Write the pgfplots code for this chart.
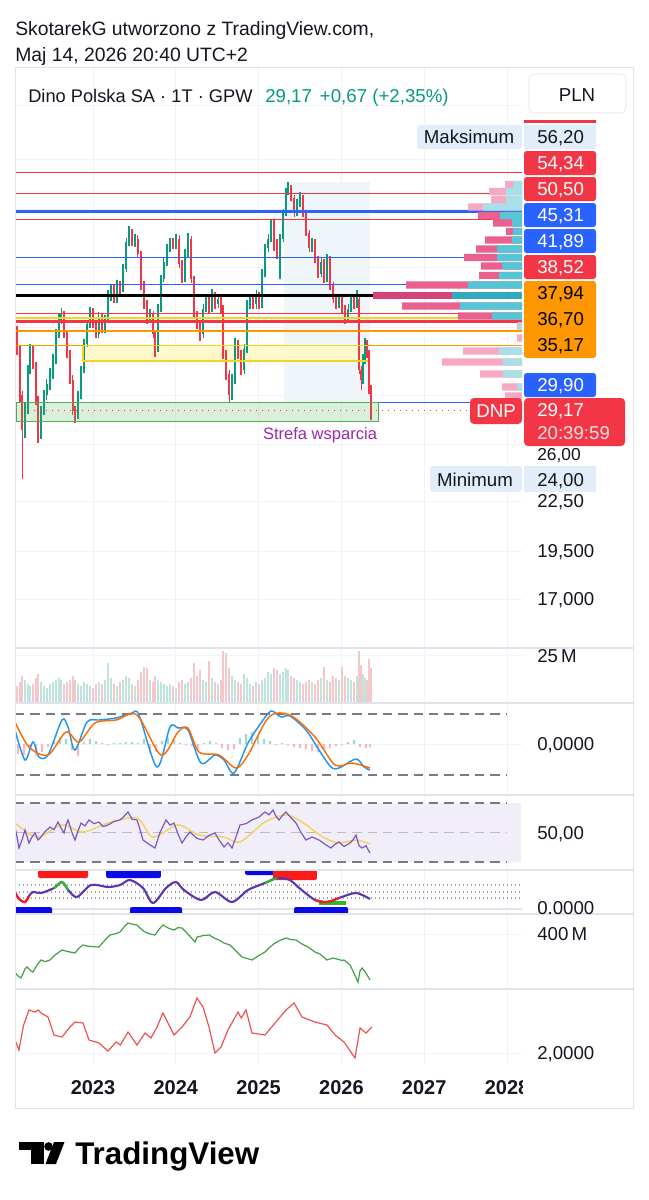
\documentclass[border=0pt]{standalone}
\usepackage{fontspec}
\setmainfont{Liberation Sans}
\usepackage{pgfplots}
\usepackage{pgfplotstable}
\pgfplotsset{compat=1.18}
\definecolor{tvred}{HTML}{F23645}
\definecolor{tvgreen}{HTML}{089981}
\definecolor{tvblue}{HTML}{2962FF}
\definecolor{tvorange}{HTML}{FF9800}
\definecolor{gridc}{HTML}{F0F3FA}
\definecolor{sepc}{HTML}{E0E3EB}
\definecolor{txt}{HTML}{131722}
\definecolor{lblue}{HTML}{E3ECF9}
\definecolor{shadeb}{HTML}{EEF6FA}
\definecolor{ybandf}{HTML}{FFF8CD}
\definecolor{yline}{HTML}{F7D21E}
\definecolor{zoneg}{HTML}{4CAF50}
\definecolor{volg}{HTML}{BFE4DE}
\definecolor{volr}{HTML}{F5C6CA}
\definecolor{vpp}{HTML}{E9628F}
\definecolor{vppl}{HTML}{F5A9C4}
\definecolor{vpc}{HTML}{56C6D6}
\definecolor{vpcl}{HTML}{A9E0E8}
\definecolor{vppd}{HTML}{D4447B}
\definecolor{vpcd}{HTML}{33AABB}
\definecolor{macdb}{HTML}{2196F3}
\definecolor{macdo}{HTML}{FF6D00}
\definecolor{histg}{HTML}{A5D6C9}
\definecolor{histr}{HTML}{F4B9BE}
\definecolor{dashc}{HTML}{787B86}
\definecolor{rsip}{HTML}{7E57C2}
\definecolor{rsiy}{HTML}{F2D35C}
\definecolor{rsibg}{HTML}{F2EEF9}
\definecolor{indp}{HTML}{5E35B1}
\definecolor{indr}{HTML}{FF1A1A}
\definecolor{indg}{HTML}{2EB82E}
\definecolor{indb}{HTML}{0A0AE6}
\definecolor{obvg}{HTML}{43A047}
\definecolor{lr}{HTML}{EF5350}
\definecolor{strefa}{HTML}{9C27B0}

\pgfplotstableread{
t o h l c v
2022.082 36.5 37.2 34.2 34.8 9
2022.118 34.8 35.2 29.8 30.5 11
2022.143 30.5 30.9 24.0 27.6 14
2022.179 27.6 29.8 27.0 29.2 12
2022.215 29.2 33.3 28.9 32.8 10
2022.239 32.8 35.3 32.4 34.8 9
2022.275 34.8 35.2 32.9 33.3 10
2022.312 33.3 33.6 29.7 30.1 13
2022.336 30.1 30.4 26.6 27.3 15
2022.372 27.3 29.6 26.9 29.2 11
2022.408 29.2 31.0 28.8 30.5 9
2022.444 30.5 32.0 30.1 31.5 8
2022.481 31.5 33.0 31.0 32.4 10
2022.517 32.4 34.3 32.0 33.8 11
2022.553 33.8 36.9 33.4 36.4 12
2022.589 36.4 38.5 36.0 37.9 13
2022.614 37.9 39.2 37.4 38.5 12
2022.650 38.5 38.9 36.0 36.4 10
2022.686 36.4 36.8 33.9 34.3 11
2022.722 34.3 34.7 31.5 31.9 12
2022.758 31.9 32.3 28.8 29.2 14
2022.783 29.2 29.6 28.2 28.8 12
2022.819 28.8 30.9 28.5 30.5 10
2022.855 30.5 33.2 30.2 32.8 9
2022.891 32.8 35.8 32.5 35.3 11
2022.928 35.3 37.9 35.0 37.4 10
2022.964 37.4 39.3 37.0 38.8 9
2023.000 38.8 39.2 37.0 37.4 8
2023.036 37.4 37.8 35.9 36.4 10
2023.072 36.4 38.7 36.0 38.2 11
2023.109 38.2 38.6 36.5 36.9 10
2023.145 36.9 38.4 36.5 37.9 12
2023.181 37.9 41.2 37.5 40.6 21
2023.217 40.6 42.0 40.0 41.4 13
2023.254 41.4 41.9 39.7 40.2 10
2023.290 40.2 42.4 39.8 41.8 9
2023.326 41.8 42.3 40.8 41.4 11
2023.362 41.4 44.4 41.0 43.8 12
2023.399 43.8 47.9 43.4 47.3 14
2023.435 47.3 49.5 46.8 48.6 13
2023.471 48.6 49.2 46.8 47.3 10
2023.507 47.3 48.4 46.7 47.8 9
2023.543 47.8 48.3 45.3 45.8 12
2023.580 45.8 46.2 41.3 41.8 16
2023.616 41.8 42.3 39.1 39.6 19
2023.652 39.6 40.1 37.4 37.9 18
2023.688 37.9 39.1 37.5 38.5 12
2023.725 38.5 38.9 35.9 36.4 11
2023.749 36.4 36.8 34.0 34.8 14
2023.785 34.8 39.6 34.5 39.1 12
2023.821 39.1 43.1 38.7 42.6 11
2023.857 42.6 45.3 42.2 44.7 10
2023.894 44.7 47.1 44.2 46.5 9
2023.930 46.5 47.9 46.0 47.3 10
2023.966 47.3 47.9 46.4 46.9 9
2024.002 46.9 48.5 46.4 47.8 8
2024.039 47.8 48.3 44.0 44.4 11
2024.075 44.4 44.9 42.1 42.6 12
2024.111 42.6 46.4 42.2 45.8 10
2024.147 45.8 48.6 45.3 47.8 11
2024.184 47.8 48.2 42.1 42.6 13
2024.220 42.6 43.0 38.0 38.5 21
2024.256 38.5 38.9 36.9 37.4 14
2024.292 37.4 37.8 35.6 36.4 17
2024.329 36.4 39.6 36.0 39.1 12
2024.365 39.1 40.8 38.7 40.2 11
2024.401 40.2 40.6 38.6 39.1 22
2024.437 39.1 41.4 38.7 40.6 13
2024.473 40.6 41.0 39.1 39.6 11
2024.510 39.6 40.7 39.2 40.2 10
2024.546 40.2 40.6 38.6 39.1 12
2024.570 39.1 39.5 33.8 34.3 27
2024.606 34.3 34.7 31.9 32.4 26
2024.643 32.4 32.8 29.9 30.5 18
2024.679 30.5 32.4 30.1 31.9 14
2024.715 31.9 35.9 31.5 35.3 12
2024.751 35.3 35.7 33.8 34.3 11
2024.787 34.3 34.7 32.3 32.8 10
2024.824 32.8 35.3 32.4 34.8 15
2024.860 34.8 40.1 34.4 39.6 13
2024.896 39.6 40.8 39.1 40.2 10
2024.932 40.2 40.7 39.1 39.6 9
2024.969 39.6 41.2 39.1 40.6 11
2025.005 40.6 41.0 39.1 39.6 10
2025.041 39.6 43.8 39.2 43.2 12
2025.077 43.2 47.1 42.8 46.5 13
2025.114 46.5 48.4 46.0 47.8 16
2025.150 47.8 50.6 47.3 49.9 15
2025.186 49.9 50.4 46.2 47.3 18
2025.222 47.3 47.8 45.1 45.8 17
2025.258 45.8 48.4 42.6 47.8 15
2025.295 47.8 52.0 47.3 51.4 16
2025.331 51.4 55.3 51.0 54.6 18
2025.355 54.6 56.2 54.2 55.3 17
2025.391 55.3 55.8 53.2 53.7 14
2025.428 53.7 54.2 50.9 51.4 13
2025.464 51.4 53.5 51.0 52.9 12
2025.500 52.9 54.6 52.4 53.7 11
2025.536 53.7 54.1 50.9 51.4 10
2025.572 51.4 51.8 48.1 48.6 11
2025.609 48.6 49.0 46.0 46.5 12
2025.645 46.5 47.9 46.0 47.3 11
2025.681 47.3 47.7 44.6 45.1 10
2025.717 45.1 45.5 42.7 43.2 12
2025.754 43.2 45.3 42.8 44.7 13
2025.790 44.7 45.1 42.1 42.6 19
2025.826 42.6 45.8 42.2 45.1 12
2025.862 45.1 45.5 41.3 41.8 11
2025.899 41.8 42.2 39.7 40.2 14
2025.935 40.2 40.7 39.1 39.6 13
2025.971 39.6 40.8 39.2 40.2 12
2026.007 40.2 40.6 38.6 39.1 19
2026.043 39.1 39.5 37.4 37.9 14
2026.080 37.9 39.6 37.5 39.1 13
2026.116 39.1 40.8 38.7 40.2 12
2026.152 40.2 40.6 39.1 39.6 11
2026.188 39.6 41.3 39.2 40.2 14
2026.213 40.2 40.5 32.4 32.8 27
2026.237 32.8 33.2 31.0 31.9 20
2026.261 31.9 34.3 31.5 33.8 15
2026.285 33.8 35.9 33.4 35.3 13
2026.309 35.3 35.7 33.9 34.3 12
2026.333 34.3 34.7 30.6 31.0 23
2026.357 31.0 31.4 28.4 29.17 18
}\candles

\pgfplotstableread{
t v
2022.058 8
2022.106 4.5
2022.179 3
2022.227 6
2022.275 8
2022.372 7.5
2022.529 10
2022.626 13
2022.700 9
2022.807 5.5
2022.976 11.5
2023.181 10.5
2023.326 11.5
2023.447 14
2023.604 10
2023.725 2.5
2023.882 10
2024.002 13
2024.099 9
2024.304 4
2024.473 8
2024.679 3
2024.872 9
2025.077 12.5
2025.222 15
2025.379 14
2025.476 10.5
2025.681 4
2025.826 3
2025.971 5
2026.176 7.5
2026.345 4.5
}\indic

\pgfplotsset{pane/.style={scale only axis, width=380.25pt, anchor=north west,
  xmin=2022.058, xmax=2028.181, axis line style={draw=none}, major tick length=0pt,
  xtick={2023,2024,2025,2026,2027,2028}, xticklabels={}, yticklabels={},
  xmajorgrids, major grid style={gridc, line width=0.75pt}}}

\newcommand{\hl}[4]{\addplot[#1, forget plot] coordinates {(#2,#4) (#3,#4)};}
\newcommand{\getcandle}[1]{%
  \pgfplotstablegetelem{#1}{t}\of\candles\let\ct\pgfplotsretval
  \pgfplotstablegetelem{#1}{o}\of\candles\let\co\pgfplotsretval
  \pgfplotstablegetelem{#1}{h}\of\candles\let\ch\pgfplotsretval
  \pgfplotstablegetelem{#1}{l}\of\candles\let\cl\pgfplotsretval
  \pgfplotstablegetelem{#1}{c}\of\candles\let\cc\pgfplotsretval
  \pgfplotstablegetelem{#1}{v}\of\candles\let\cv\pgfplotsretval
  \pgfmathtruncatemacro{\cup}{\cc>=\co ? 1 : 0}%
  \ifnum\cup=1 \def\ccol{tvgreen}\def\vcol{volg}\else\def\ccol{tvred}\def\vcol{volr}\fi}

\begin{document}
\begin{tikzpicture}[x=0.75pt,y=0.75pt]
\useasboundingbox (0,0) rectangle (649,-1200);
\fill[white] (0,0) rectangle (649,-1200);

% ---------------- main price pane
\begin{axis}[pane, at={(11.25pt,-51pt)}, height=435pt, ymode=log, ymin=14.78, ymax=77.98,
  ytick={17,19.5,22.5,26.5,30.5,37,44,52,60,70}, ymajorgrids]
  \fill[shadeb] (axis cs:2025.307,56.24) rectangle (axis cs:2026.345,29.92);
  \fill[ybandf] (axis cs:2022.879,35.17) rectangle (axis cs:2026.321,33.66);
  \pgfplotsinvokeforeach{0,...,123}{%
    \getcandle{#1}%
    \edef\cmd{\noexpand\addplot[forget plot, color=\ccol, line width=0.8pt] coordinates {(\ct,\cl) (\ct,\ch)};
      \noexpand\addplot[forget plot, color=\ccol, line width=2.1pt] coordinates {(\ct,\co) (\ct,\cc)};}%
    \cmd
  }
  % support zone
  \fill[zoneg, fill opacity=0.2] (axis cs:2022.076,29.86) rectangle (axis cs:2026.448,28.28);
  \draw[zoneg, line width=1pt] (axis cs:2022.076,29.86) rectangle (axis cs:2026.448,28.28);
  % horizontal levels
  \hl{tvred, line width=0.8pt}{2022.058}{2028.181}{57.76}
  \hl{tvred, line width=0.8pt}{2022.058}{2028.181}{54.34}
  \hl{tvblue, line width=2.3pt}{2022.058}{2028.181}{51.65}
  \hl{tvred, line width=0.8pt}{2022.058}{2028.181}{50.50}
  \hl{tvblue, line width=0.9pt}{2022.058}{2028.181}{45.31}
  \hl{tvblue, line width=0.9pt}{2022.058}{2028.181}{41.89}
  \hl{black, line width=2.3pt}{2022.058}{2026.382}{40.56}
  \hl{tvred, line width=0.8pt}{2022.058}{2028.181}{38.52}
  \hl{yline, line width=1.5pt}{2022.058}{2027.408}{38.02}
  \hl{tvred, line width=2.3pt}{2022.058}{2028.181}{37.67}
  \hl{tvorange, line width=1.1pt}{2022.058}{2028.181}{36.70}
  \hl{tvorange, line width=1.1pt}{2022.058}{2028.181}{35.17}
  \hl{yline, line width=1.1pt}{2022.879}{2026.321}{35.17}
  \hl{yline, line width=1.1pt}{2022.879}{2026.321}{33.66}
  \addplot[yline, line width=1.1pt, forget plot] coordinates {(2022.879,35.17) (2022.879,33.66)};
  \hl{tvblue, line width=0.8pt}{2026.448}{2027.553}{29.90}
  \hl{tvred, line width=0.9pt, dash pattern=on 1pt off 3.5pt}{2022.070}{2027.553}{29.17}
\end{axis}

% ---------------- volume profile overlay
\begin{axis}[scale only axis, width=380.25pt, height=435pt, at={(11.25pt,-51pt)}, anchor=north west,
  ymode=log, ymin=14.78, ymax=77.98, xmin=0, xmax=507, x dir=reverse, hide axis,
  xbar, bar width=5.4pt]
  \addplot[draw=none, fill=vppl, bar shift=0pt] coordinates {(17,55.84) (33,54.73) (31,53.49) (54,52.35) (5,37.21) (5,35.95) (59,34.64) (80,33.56) (42,32.43) (20,31.24) (17,30.44)};
  \addplot[draw=none, fill=vpp, bar shift=0pt] coordinates {(44,51.09) (29,50.00) (16,48.80) (37,47.62) (46,46.41) (58,45.29) (41,44.20) (43,43.01) (116,41.86) (120,39.41) (64,38.29)};
  \addplot[draw=none, fill=vppd, bar shift=0pt] coordinates {(149,40.61)};
  \addplot[draw=none, fill=vpcl, bar shift=0pt] coordinates {(9,55.84) (16,54.73) (16,53.49) (39,52.35) (4,37.21) (23,34.64) (19,33.56) (19,32.43) (5,31.24)};
  \addplot[draw=none, fill=vpc, bar shift=0pt] coordinates {(22,51.09) (10,50.00) (9,48.80) (10,47.62) (25,46.41) (25,45.29) (20,44.20) (23,43.01) (54,41.86) (62,39.41) (30,38.29)};
  \addplot[draw=none, fill=vpcd, bar shift=0pt] coordinates {(70,40.61)};
\end{axis}

% ---------------- volume
\begin{axis}[pane, at={(11.25pt,-486pt)}, height=41.25pt, ymin=0, ymax=28.65, ytick={25}, ymajorgrids]
  \pgfplotsinvokeforeach{0,...,123}{%
    \getcandle{#1}%
    \edef\cmd{\noexpand\addplot[forget plot, ybar, bar width=1.6pt, bar shift=0pt, draw=none, fill=\vcol] coordinates {(\ct,\cv)};}%
    \cmd
  }
\end{axis}

% ---------------- MACD
\begin{axis}[pane, at={(11.25pt,-527.25pt)}, height=69pt, ymin=-5.1, ymax=4.1, ytick={0}, ymajorgrids]
  \addplot[ybar, bar width=1.6pt, bar shift=0pt, draw=none, fill=histg] coordinates {
   (2022.529,0.4) (2022.601,0.7) (2022.674,0.5) (2022.891,0.2) (2022.964,0.5) (2023.036,0.3)
   (2023.109,0.1) (2023.254,0.1) (2023.326,0.1) (2023.399,0.2) (2023.471,0.2) (2023.543,0.1)
   (2023.616,0.5) (2023.833,0.3) (2023.906,0.6) (2023.978,0.4) (2024.051,0.1) (2024.341,0.1)
   (2024.413,0.3) (2024.486,0.1) (2024.775,0.6) (2024.848,1.0) (2024.920,1.2) (2024.993,0.8)
   (2025.065,0.5) (2025.138,0.3) (2025.283,0.1) (2026.080,0.2) (2026.152,0.4)};
  \addplot[ybar, bar width=1.6pt, bar shift=0pt, draw=none, fill=histr] coordinates {
   (2022.094,-1.0) (2022.167,-1.1) (2022.239,-0.5) (2022.312,-1.2) (2022.384,-0.8) (2022.457,-0.3)
   (2022.746,-0.6) (2022.819,-1.2) (2023.181,-0.1) (2023.688,-0.9) (2023.761,-0.8)
   (2024.123,-0.1) (2024.196,-0.2) (2024.268,-0.5) (2024.558,-0.4) (2024.630,-0.6) (2024.703,-0.5)
   (2025.210,-0.1) (2025.355,-0.1) (2025.428,-0.3) (2025.500,-0.4) (2025.572,-0.5) (2025.645,-0.7)
   (2025.717,-0.8) (2025.790,-0.6) (2025.862,-0.4) (2025.935,-0.2) (2026.007,-0.1)
   (2026.225,-0.3) (2026.297,-0.4) (2026.345,-0.3)};
  \hl{dashc, line width=1.3pt, dash pattern=on 7pt off 4.5pt}{2022.058}{2028.0}{3.0}
  \hl{dashc, line width=1.3pt, dash pattern=on 7pt off 4.5pt}{2022.058}{2028.0}{-3.1}
  \addplot[macdb, line width=1.1pt, smooth, tension=0.5] coordinates {
   (2022.058,1.4) (2022.179,-1.6) (2022.275,0.2) (2022.348,-1.3) (2022.457,-1.1) (2022.626,2.4)
   (2022.698,1.7) (2022.783,-0.6) (2022.928,2.2) (2023.072,2.4) (2023.278,2.6) (2023.471,3.1)
   (2023.556,2.9) (2023.773,-2.3) (2023.930,1.7) (2024.027,1.6) (2024.147,1.4) (2024.304,-1.9)
   (2024.473,-1.1) (2024.582,-1.6) (2024.703,-2.9) (2024.872,0.1) (2025.029,2.1) (2025.150,3.3)
   (2025.271,2.7) (2025.379,2.8) (2025.572,1.4) (2025.729,-0.6) (2025.874,-2.3) (2025.971,-2.4)
   (2026.176,-1.5) (2026.273,-2.3) (2026.345,-2.6)};
  \addplot[macdo, line width=1.1pt, smooth, tension=0.5] coordinates {
   (2022.058,2.2) (2022.227,-0.3) (2022.457,-1.1) (2022.674,1.2) (2022.831,0.2) (2023.024,2.1)
   (2023.278,2.4) (2023.531,2.9) (2023.821,-1.1) (2024.027,1.2) (2024.147,1.6) (2024.280,-0.8)
   (2024.522,-1.1) (2024.727,-2.4) (2024.872,-1.1) (2025.126,2.7) (2025.379,2.9) (2025.681,0.7)
   (2025.923,-2.1) (2026.128,-1.9) (2026.345,-2.4)};
\end{axis}

% ---------------- RSI
\begin{axis}[pane, at={(11.25pt,-596.25pt)}, height=56.25pt, ymin=24.58, ymax=75.42]
  \fill[rsibg] (axis cs:2022.058,70) rectangle (axis cs:2028.169,30);
  \hl{dashc, line width=1.3pt, dash pattern=on 7pt off 4.5pt}{2022.058}{2028.0}{70}
  \hl{dashc!50, line width=1.1pt, dash pattern=on 7pt off 4.5pt}{2022.058}{2028.0}{50}
  \hl{dashc, line width=1.3pt, dash pattern=on 7pt off 4.5pt}{2022.058}{2028.0}{30}
  \addplot[rsiy, line width=1.1pt, smooth] coordinates {
   (2022.058,56.4) (2022.324,46.9) (2022.626,55.1) (2022.879,50.3) (2023.181,56.4) (2023.531,59.8)
   (2023.725,46.9) (2024.027,55.1) (2024.280,48.3) (2024.582,46.9) (2024.775,43.6) (2025.077,57.1)
   (2025.331,61.9) (2025.524,57.1) (2025.778,46.9) (2025.971,42.9) (2026.176,44.9) (2026.345,42.2)};
  \addplot[rsip, line width=0.9pt] coordinates {
   (2022.058,53.7) (2022.082,47.0) (2022.106,39.5) (2022.143,45.0) (2022.179,51.7) (2022.203,47.5)
   (2022.227,42.9) (2022.264,47.0) (2022.300,49.7) (2022.336,45.0) (2022.372,46.9) (2022.420,50.5)
   (2022.481,53.7) (2022.529,52.0) (2022.577,57.1) (2022.614,53.0) (2022.650,49.7) (2022.674,55.0)
   (2022.698,58.5) (2022.746,50.0) (2022.783,44.9) (2022.819,51.0) (2022.855,56.4) (2022.903,54.5)
   (2022.952,58.5) (2023.012,56.0) (2023.072,57.1) (2023.121,54.0) (2023.181,55.1) (2023.254,57.5)
   (2023.326,58.5) (2023.375,61.0) (2023.423,63.9) (2023.471,59.0) (2023.531,58.5) (2023.568,52.0)
   (2023.604,44.9) (2023.676,42.0) (2023.749,39.5) (2023.809,50.0) (2023.882,58.5) (2023.930,55.0)
   (2023.978,56.4) (2024.027,49.0) (2024.075,42.9) (2024.123,47.0) (2024.171,50.3) (2024.256,46.0)
   (2024.329,44.9) (2024.401,48.0) (2024.473,49.7) (2024.522,45.0) (2024.582,40.2) (2024.630,43.0)
   (2024.679,39.5) (2024.727,47.0) (2024.775,55.1) (2024.848,56.0) (2024.920,58.5) (2025.005,60.5)
   (2025.077,63.9) (2025.126,62.0) (2025.174,65.3) (2025.210,61.0) (2025.246,58.5) (2025.295,62.0)
   (2025.331,63.9) (2025.391,60.0) (2025.452,56.4) (2025.512,50.0) (2025.572,44.9) (2025.645,47.0)
   (2025.729,44.9) (2025.802,42.0) (2025.874,39.5) (2025.923,42.0) (2025.971,43.6) (2026.031,40.5)
   (2026.104,42.9) (2026.140,45.0) (2026.176,48.3) (2026.213,41.0) (2026.249,39.5) (2026.297,41.0)
   (2026.345,36.1)};
\end{axis}

% ---------------- indicator pane
\begin{axis}[pane, at={(11.25pt,-652.5pt)}, height=33pt, ymin=-3, ymax=19]
  \hl{dashc!70, line width=0.8pt, dash pattern=on 0.8pt off 2.2pt}{2022.058}{2028.181}{11.5}
  \hl{dashc!70, line width=0.8pt, dash pattern=on 0.8pt off 2.2pt}{2022.058}{2028.181}{8}
  \hl{dashc!70, line width=0.8pt, dash pattern=on 0.8pt off 2.2pt}{2022.058}{2028.181}{5}
  \hl{sepc, line width=0.8pt}{2022.058}{2028.181}{-0.5}
  \fill[indr, rounded corners=1.5pt] (axis cs:2022.336,20) rectangle (axis cs:2022.940,15);
  \fill[indb, rounded corners=1.5pt] (axis cs:2023.157,20) rectangle (axis cs:2023.821,15);
  \fill[indb, rounded corners=1.5pt] (axis cs:2024.836,20) rectangle (axis cs:2025.476,16.5);
  \fill[indr, rounded corners=1.5pt] (axis cs:2025.174,20) rectangle (axis cs:2025.705,14);
  \fill[indb, rounded corners=1.5pt] (axis cs:2022.058,0.5) rectangle (axis cs:2022.505,-3.5);
  \fill[indb, rounded corners=1.5pt] (axis cs:2023.447,0.5) rectangle (axis cs:2024.075,-3.5);
  \fill[indb, rounded corners=1.5pt] (axis cs:2025.428,0.5) rectangle (axis cs:2026.080,-3.5);
  \fill[indg] (axis cs:2025.729,3.5) rectangle (axis cs:2026.055,1.5);
  \addplot[indp, line width=1.6pt, smooth] table[x=t, y=v] {\indic};
  \addplot[indr, line width=1.6pt, smooth, restrict x to domain=2022.05:2022.25] table[x=t, y=v] {\indic};
  \addplot[indr, line width=1.6pt, smooth, restrict x to domain=2023.65:2023.80] table[x=t, y=v] {\indic};
  \addplot[indr, line width=1.6pt, smooth, restrict x to domain=2024.60:2024.75] table[x=t, y=v] {\indic};
  \addplot[indr, line width=1.6pt, smooth, restrict x to domain=2025.65:2026.0] table[x=t, y=v] {\indic};
  \addplot[indr, line width=1.6pt, smooth, restrict x to domain=2026.30:2026.36] table[x=t, y=v] {\indic};
  \addplot[indg, line width=1.6pt, smooth, restrict x to domain=2022.52:2022.70] table[x=t, y=v] {\indic};
  \addplot[indg, line width=1.6pt, smooth, restrict x to domain=2023.40:2023.50] table[x=t, y=v] {\indic};
  \addplot[indg, line width=1.6pt, smooth, restrict x to domain=2023.95:2024.05] table[x=t, y=v] {\indic};
  \addplot[indg, line width=1.6pt, smooth, restrict x to domain=2025.00:2025.25] table[x=t, y=v] {\indic};
\end{axis}

% ---------------- green line pane
\begin{axis}[pane, at={(11.25pt,-685.5pt)}, height=56.25pt, ymin=125, ymax=500, ytick={400}, ymajorgrids]
  \addplot[obvg, line width=0.9pt] coordinates {
   (2022.058,210) (2022.082,195) (2022.130,180) (2022.179,225) (2022.203,235) (2022.251,215)
   (2022.275,210) (2022.324,245) (2022.372,270) (2022.420,262) (2022.481,270) (2022.541,295)
   (2022.626,320) (2022.698,312) (2022.783,305) (2022.831,330) (2022.879,345) (2022.952,338)
   (2023.072,335) (2023.145,370) (2023.205,395) (2023.278,402) (2023.326,410) (2023.375,435)
   (2023.423,455) (2023.484,448) (2023.531,445) (2023.580,425) (2023.628,410) (2023.690,400)
   (2023.749,395) (2023.800,425) (2023.845,445) (2023.918,428) (2023.978,420) (2024.027,432)
   (2024.075,430) (2024.135,405) (2024.232,360) (2024.256,385) (2024.329,392) (2024.401,395)
   (2024.473,378) (2024.522,370) (2024.582,355) (2024.655,345) (2024.739,310) (2024.800,285)
   (2024.860,278) (2024.920,270) (2024.993,290) (2025.077,310) (2025.138,335) (2025.198,355)
   (2025.258,368) (2025.331,380) (2025.391,372) (2025.452,370) (2025.524,350) (2025.596,335)
   (2025.681,310) (2025.741,300) (2025.826,270) (2025.899,280) (2026.007,268) (2026.031,270)
   (2026.104,245) (2026.140,215) (2026.200,160) (2026.225,215) (2026.249,230) (2026.297,205)
   (2026.345,170)};
\end{axis}

% ---------------- red line pane
\begin{axis}[pane, at={(11.25pt,-741.75pt)}, height=57pt, ymin=1.76, ymax=3.28, ytick={2}, ymajorgrids,
  xticklabels={2023,2024,2025,2026,2027,2028},
  xticklabel style={font=\fontsize{15}{18}\selectfont\bfseries, text=txt, anchor=center, yshift=-17.25pt}]
  \addplot[lr, line width=0.9pt] coordinates {
   (2022.058,2.26) (2022.106,2.06) (2022.160,2.55) (2022.227,2.86) (2022.300,2.82) (2022.340,2.86)
   (2022.372,2.80) (2022.457,2.72) (2022.529,2.36) (2022.626,2.32) (2022.722,2.52) (2022.783,2.62)
   (2022.879,2.60) (2022.952,2.26) (2023.072,2.20) (2023.181,2.04) (2023.278,2.22) (2023.330,2.16)
   (2023.423,2.42) (2023.531,2.16) (2023.628,2.40) (2023.700,2.30) (2023.773,2.52) (2023.845,2.80)
   (2023.978,2.36) (2024.075,2.52) (2024.171,2.72) (2024.256,3.10) (2024.329,2.92) (2024.401,2.52)
   (2024.473,2.00) (2024.546,2.12) (2024.630,2.46) (2024.751,2.82) (2024.790,2.70) (2024.848,2.86)
   (2024.920,2.40) (2025.077,2.36) (2025.198,2.60) (2025.331,2.86) (2025.428,3.00) (2025.524,2.72)
   (2025.681,2.62) (2025.826,2.56) (2025.923,2.36) (2026.031,2.22) (2026.164,1.90) (2026.225,2.50)
   (2026.297,2.40) (2026.370,2.52)};
\end{axis}

% cut the 2028 label at the price scale
\fill[white] (523,-1068) rectangle (632,-1106);

% ---------------- separators and frame
\foreach \yy in {648,703,795,870,914,989}{\draw[sepc, line width=0.9pt] (15,-\yy) -- (633,-\yy);}
\draw[sepc, line width=0.75pt] (15,-67) rectangle (633,-1108);

% ---------------- header
\node[anchor=base west, font=\fontsize{14.5}{17}\selectfont, text=txt, inner sep=0pt] at (15,-35) {SkotarekG utworzono z TradingView.com,};
\node[anchor=base west, font=\fontsize{14.5}{17}\selectfont, text=txt, inner sep=0pt] at (15,-61) {Maj 14, 2026 20:40 UTC+2};
\node[anchor=base west, font=\fontsize{13.7}{16}\selectfont, text=txt, inner sep=0pt] at (28,-102) {Dino Polska SA · 1T · GPW};
\node[anchor=base west, font=\fontsize{14}{16}\selectfont, text=tvgreen, inner sep=0pt] at (265,-102) {29,17\hspace{6pt}+0,67 (+2,35\%)};
\draw[sepc, fill=white, rounded corners=4pt] (529,-74) rectangle (626,-113);
\node[font=\fontsize{14}{16}\selectfont, text=txt, anchor=base] at (577,-101) {PLN};

% ---------------- price scale labels
\fill[tvred] (524,-120) rectangle (596,-123);
\fill[lblue, rounded corners=2pt] (417,-125) rectangle (522,-149);
\fill[lblue] (524,-125) rectangle (596,-149);
\fill[tvred, rounded corners=2pt] (524,-151) rectangle (596,-175);
\fill[tvred, rounded corners=2pt] (524,-177) rectangle (596,-201);
\fill[tvblue, rounded corners=2pt] (524,-203) rectangle (596,-227);
\fill[tvblue, rounded corners=2pt] (524,-229) rectangle (596,-253);
\fill[tvred, rounded corners=2pt] (524,-255) rectangle (596,-279);
\fill[tvorange, rounded corners=2pt] (524,-281) rectangle (596,-358);
\fill[tvblue, rounded corners=2pt] (524,-373) rectangle (596,-397);
\node[anchor=base west, font=\fontsize{13}{15}\selectfont, text=txt, inner sep=0pt] at (537,-460) {26,00};
\fill[tvred, rounded corners=3pt] (470,-398) rectangle (522,-424);
\fill[tvred, rounded corners=3pt] (524,-398) rectangle (625,-446);
\fill[lblue, rounded corners=2pt] (430,-466) rectangle (522,-492);
\fill[lblue] (524,-466) rectangle (596,-492);
\begin{scope}[every node/.style={anchor=base west, font=\fontsize{14}{16}\selectfont, inner sep=0pt}]
\node[anchor=base, text=txt] at (469,-143) {Maksimum};
\node[text=txt] at (537,-143) {56,20};
\node[text=white] at (537,-169) {54,34};
\node[text=white] at (537,-195) {50,50};
\node[text=white] at (537,-221) {45,31};
\node[text=white] at (537,-247) {41,89};
\node[text=white] at (537,-273) {38,52};
\node[text=black] at (537,-299.5) {37,94};
\node[text=black] at (537,-325.5) {36,70};
\node[text=black] at (537,-351.5) {35,17};
\node[text=white] at (537,-391) {29,90};
\node[anchor=base, text=white] at (496,-417) {DNP};
\node[text=white] at (537,-416) {29,17};
\node[text=white!85!tvred] at (537,-439) {20:39:59};
\node[anchor=base, text=txt] at (475,-486) {Minimum};
\node[text=txt] at (537,-486) {24,00};
\node[text=txt] at (537,-507) {22,50};
\node[text=txt] at (537,-557) {19,500};
\node[text=txt] at (537,-605) {17,000};
\node[text=txt] at (537,-662) {25\,M};
\node[text=txt] at (537,-750) {0,0000};
\node[text=txt] at (537,-839) {50,00};
\node[text=txt] at (537,-914) {0.0000};
\node[text=txt] at (537,-940) {400\,M};
\node[text=txt] at (537,-1059) {2,0000};
\end{scope}
\node[font=\fontsize{12.4}{14}\selectfont, text=strefa, anchor=base] at (320,-439) {Strefa wsparcia};

% ---------------- TradingView logo
\fill[black] (18.6,-1142) rectangle (43.5,-1150);
\fill[black] (31,-1142) rectangle (43.5,-1164);
\fill[black] (48.5,-1146.5) circle (4.3);
\fill[black] (54,-1142) -- (64.5,-1142) -- (56,-1164) -- (45.5,-1164) -- cycle;
\node[anchor=base west, font=\fontsize{23.5}{26}\selectfont\bfseries, text=black, inner sep=0pt] at (75,-1164) {TradingView};
\end{tikzpicture}
\end{document}
